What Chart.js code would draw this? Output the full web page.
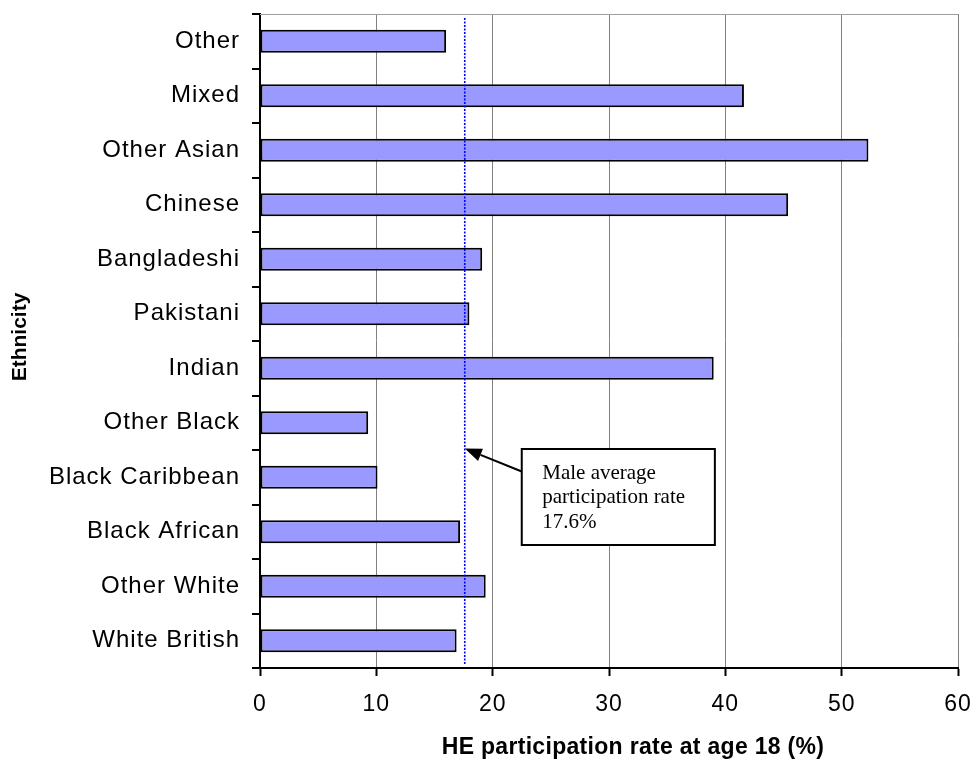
<!DOCTYPE html>
<html>
<head>
<meta charset="utf-8">
<script src="https://cdn.jsdelivr.net/npm/chart.js@4/dist/chart.umd.min.js"></script>
<style>
  html, body { margin: 0; padding: 0; background: #ffffff; }
  #wrap { width: 974px; height: 767px; position: relative; }
</style>
</head>
<body>
<div id="wrap"><canvas id="c" width="974" height="767"></canvas></div>
<script>
// Participation in higher education at age 18, by ethnic group
const ethnicities = ['Other', 'Mixed', 'Other Asian', 'Chinese', 'Bangladeshi', 'Pakistani',
  'Indian', 'Other Black', 'Black Caribbean', 'Black African', 'Other White', 'White British'];
const participationRate = [16.0, 41.6, 52.3, 45.4, 19.1, 18.0, 39.0, 9.3, 10.1, 17.2, 19.4, 16.9];
const maleAverage = 17.6;
const rateTicks = [0, 10, 20, 30, 40, 50, 60];
const xTitle = 'HE participation rate at age 18 (%)';
const yTitle = 'Ethnicity';
const noteLines = ['Male average', 'participation rate', maleAverage.toFixed(1) + '%'];

const SANS = '"Liberation Sans", Arial, sans-serif';
const SERIF = '"Liberation Serif", "Times New Roman", serif';

// Plot frame, average marker line, callout and axis titles
const decor = {
  id: 'decor',
  beforeDraw(chart) {
    // slightly open tracking for the axis tick labels
    chart.ctx.letterSpacing = '1px';
  },
  beforeDatasetsDraw(chart) {
    const { ctx, chartArea: a } = chart;
    ctx.letterSpacing = '0px';
    ctx.save();
    ctx.strokeStyle = '#a0a0a0';
    ctx.lineWidth = 1;
    ctx.beginPath();
    ctx.moveTo(a.left, a.top + 0.5);
    ctx.lineTo(a.right, a.top + 0.5);
    ctx.stroke();
    ctx.restore();
  },
  afterDatasetsDraw(chart) {
    const { ctx, chartArea: a, scales } = chart;
    const lx = scales.x.getPixelForValue(maleAverage);
    ctx.save();
    ctx.strokeStyle = '#0000ff';
    ctx.lineWidth = 1.6;
    ctx.setLineDash([2, 1.5]);
    ctx.beginPath();
    ctx.moveTo(lx, a.top + 4);
    ctx.lineTo(lx, a.bottom - 3);
    ctx.stroke();
    ctx.restore();
  },
  afterDraw(chart) {
    const { ctx, chartArea: a, scales } = chart;
    const lx = scales.x.getPixelForValue(maleAverage);

    // callout box
    const bl = scales.x.getPixelForValue(22.5);
    const br = scales.x.getPixelForValue(39.1);
    const bt = a.top + 435;
    const bh = 96;
    ctx.save();
    ctx.letterSpacing = '0px';
    ctx.fillStyle = '#ffffff';
    ctx.fillRect(bl, bt, br - bl, bh);
    ctx.strokeStyle = '#000000';
    ctx.lineWidth = 2;
    ctx.strokeRect(bl, bt, br - bl, bh);

    // arrow pointing at the average line
    const tipX = lx, tipY = a.top + 434.5;
    const tailX = bl, tailY = a.top + 457.5;
    const ang = Math.atan2(tipY - tailY, tipX - tailX);
    const headLen = 17, headHalf = 6.5;
    const baseX = tipX - headLen * Math.cos(ang), baseY = tipY - headLen * Math.sin(ang);
    ctx.beginPath();
    ctx.moveTo(tailX, tailY);
    ctx.lineTo(baseX, baseY);
    ctx.stroke();
    ctx.fillStyle = '#000000';
    ctx.beginPath();
    ctx.moveTo(tipX, tipY);
    ctx.lineTo(baseX + headHalf * Math.sin(ang), baseY - headHalf * Math.cos(ang));
    ctx.lineTo(baseX - headHalf * Math.sin(ang), baseY + headHalf * Math.cos(ang));
    ctx.closePath();
    ctx.fill();

    // callout text
    ctx.font = '21px ' + SERIF;
    ctx.textAlign = 'left';
    ctx.textBaseline = 'alphabetic';
    const baselines = [30, 54, 78.5];
    noteLines.forEach((t, i) => ctx.fillText(t, bl + 20.5, bt + baselines[i]));

    // axis titles
    ctx.fillStyle = '#000000';
    ctx.font = 'bold 23px ' + SANS;
    ctx.letterSpacing = '0.3px';
    ctx.textAlign = 'center';
    ctx.textBaseline = 'middle';
    ctx.fillText(xTitle, (a.left + a.right) / 2 + 24, a.bottom + 80);

    ctx.font = 'bold 21px ' + SANS;
    ctx.letterSpacing = '0px';
    ctx.translate(20, (a.top + a.bottom) / 2 - 4);
    ctx.rotate(-Math.PI / 2);
    ctx.fillText(yTitle, 0, 0);
    ctx.restore();
  }
};

new Chart(document.getElementById('c'), {
  type: 'bar',
  data: {
    labels: ethnicities,
    datasets: [{
      data: participationRate,
      backgroundColor: '#9999ff',
      borderColor: '#000000',
      borderWidth: 2,
      borderSkipped: false,
      barPercentage: 0.42,
      categoryPercentage: 1.0
    }]
  },
  options: {
    indexAxis: 'y',
    responsive: false,
    animation: false,
    devicePixelRatio: 1,
    layout: { padding: { top: 14, right: 16, left: 0, bottom: 0 } },
    plugins: { legend: { display: false }, tooltip: { enabled: false } },
    scales: {
      y: {
        type: 'category',
        offset: true,
        grid: {
          offset: true,
          drawOnChartArea: false,
          color: '#000000',
          lineWidth: 2,
          tickLength: 8
        },
        border: { color: '#000000', width: 2 },
        ticks: {
          autoSkip: false,
          color: '#000000',
          padding: 12,
          font: { family: SANS, size: 24 }
        },
        afterFit(s) { s.width = 260; s.paddingTop = 0; s.paddingBottom = 0; }
      },
      x: {
        type: 'linear',
        min: 0,
        max: 60,
        grid: {
          color: '#808080',
          lineWidth: 1,
          tickColor: '#000000',
          tickWidth: 2,
          tickLength: 8
        },
        border: { color: '#000000', width: 2 },
        ticks: {
          color: '#000000',
          padding: 15,
          font: { family: SANS, size: 23 }
        },
        afterBuildTicks(s) { s.ticks = rateTicks.map(v => ({ value: v })); },
        afterFit(s) { s.height = 99; s.paddingLeft = 0; s.paddingRight = 0; }
      }
    }
  },
  plugins: [decor]
});
</script>
</body>
</html>
